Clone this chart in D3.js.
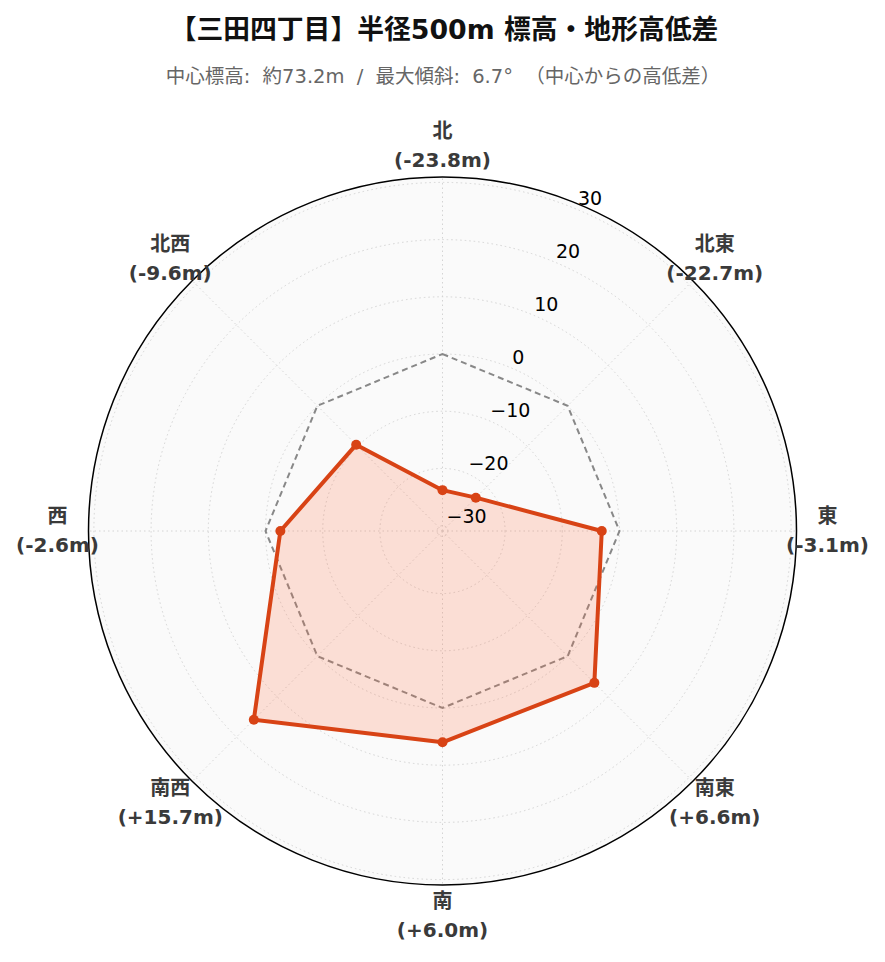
<!DOCTYPE html>
<html><head><meta charset="utf-8">
<script src="https://cdn.jsdelivr.net/npm/d3@7"></script>
<style>
body{margin:0;background:#fff;}
svg{display:block;}
</style></head>
<body>
<svg id="chart" width="885" height="962"></svg>
<script>
const directions = ["北","北東","東","南東","南","南西","西","北西"];
const diffs = [-23.8, -22.7, -3.1, 6.6, 6.0, 15.7, -2.6, -9.6];
const radialTicks = [-30, -20, -10, 0, 10, 20, 30];
const titleText = "【三田四丁目】半径500m 標高・地形高低差";
const subtitleText = "中心標高: 約73.2m / 最大傾斜: 6.7° （中心からの高低差）";

const svg = d3.select("#chart");
const cx = 442.5, cy = 531, R = 354;
const maxAbs = d3.max(diffs, d => Math.abs(d)) * 1.3;
const r = d3.scaleLinear().domain([-maxAbs, maxAbs]).range([0, R]);
const ang = d3.scaleLinear().domain([0, directions.length]).range([0, 2 * Math.PI]);
const font = "'DejaVu Sans','Noto Sans CJK JP',sans-serif";

svg.append("text").attr("x", 444).attr("y", 39).attr("text-anchor", "middle")
  .attr("font-family", "'DejaVu Sans','Noto Sans CJK JP',sans-serif").attr("font-weight", "bold")
  .attr("font-size", 26.8).attr("fill", "#111").text(titleText);
svg.append("text").attr("x", 443).attr("y", 83).attr("text-anchor", "middle")
  .attr("font-family", "'DejaVu Sans','Noto Sans CJK JP',sans-serif")
  .attr("font-size", 19.5).attr("fill", "#666").attr("word-spacing", 6).text(subtitleText);

const g = svg.append("g").attr("transform", `translate(${cx},${cy})`);
g.append("circle").attr("r", R).attr("fill", "#fafafa");

// grid circles
g.selectAll(".gc").data(radialTicks).join("circle")
  .attr("r", d => r(d)).attr("fill", "none").attr("stroke", "#d4d4d4")
  .attr("stroke-width", 1).attr("stroke-dasharray", "1.5,3");
// spokes
g.selectAll(".sp").data(directions).join("line")
  .attr("x1", 0).attr("y1", 0)
  .attr("x2", (d, i) => R * Math.sin(ang(i)))
  .attr("y2", (d, i) => -R * Math.cos(ang(i)))
  .attr("stroke", "#d4d4d4").attr("stroke-width", 1).attr("stroke-dasharray", "1.5,3");

// outer circle
g.append("circle").attr("r", R).attr("fill", "none").attr("stroke", "#000").attr("stroke-width", 1.5);

// zero reference
const radial = d3.lineRadial().angle((d, i) => ang(i)).radius(d => r(d)).curve(d3.curveLinearClosed);
g.append("path").attr("d", radial(directions.map(() => 0)))
  .attr("fill", "none").attr("stroke", "#888").attr("stroke-width", 2).attr("stroke-dasharray", "6,4");

// data
g.append("path").attr("d", radial(diffs))
  .attr("fill", "#ff7043").attr("fill-opacity", 0.2)
  .attr("stroke", "#d84315").attr("stroke-width", 4).attr("stroke-linejoin", "round");
g.selectAll(".pt").data(diffs).join("circle")
  .attr("cx", (d, i) => r(d) * Math.sin(ang(i)))
  .attr("cy", (d, i) => -r(d) * Math.cos(ang(i)))
  .attr("r", 5).attr("fill", "#d84315");

// radial tick labels along 22.5°
const ta = Math.PI / 8;
g.selectAll(".tl").data(radialTicks).join("text")
  .attr("x", d => r(d) * Math.sin(ta) + 2)
  .attr("y", d => -r(d) * Math.cos(ta) - 3.5)
  .attr("font-family", font).attr("font-size", 19).attr("fill", "#000")
  .text(d => d < 0 ? "\u2212" + Math.abs(d) : d);

// angular labels
const LR = 385;
const labs = g.selectAll(".al").data(directions).join("text")
  .attr("text-anchor", "middle").attr("font-family", font).attr("font-weight", "bold")
  .attr("font-size", 20).attr("fill", "#3a3a3a");
labs.append("tspan")
  .attr("x", (d, i) => LR * Math.sin(ang(i)))
  .attr("y", (d, i) => -LR * Math.cos(ang(i)) - 8)
  .text(d => d);
labs.append("tspan")
  .attr("x", (d, i) => LR * Math.sin(ang(i)))
  .attr("y", (d, i) => -LR * Math.cos(ang(i)) + 21)
  .text((d, i) => `(${diffs[i] > 0 ? "+" : ""}${diffs[i].toFixed(1)}m)`);
</script>
</body></html>
